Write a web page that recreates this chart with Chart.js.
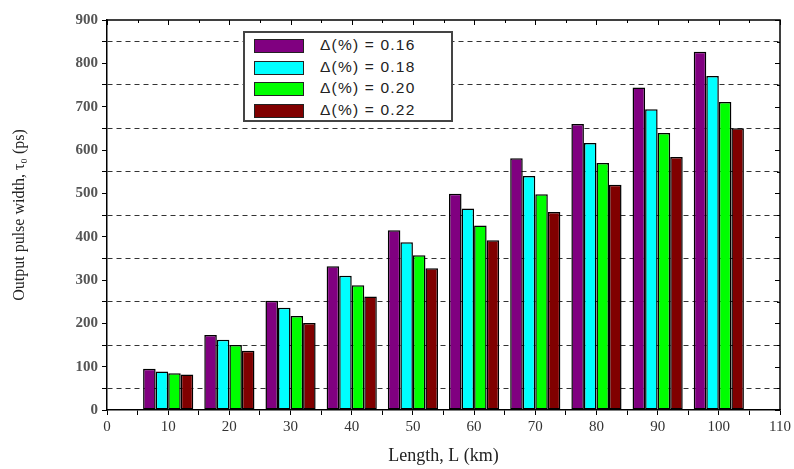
<!DOCTYPE html>
<html>
<head>
<meta charset="utf-8">
<script src="https://cdn.jsdelivr.net/npm/chart.js@4/dist/chart.umd.min.js"></script>
<style>
  html, body { margin: 0; padding: 0; background: #fff; }
  #wrap { position: relative; width: 794px; height: 469px; }
  #legend {
    position: absolute; left: 243px; top: 31px; width: 206px; height: 87px;
    border: 2px solid #444; background: #fff;
    font-family: "Liberation Sans", Arial, sans-serif; font-size: 15.5px; color: #222;
  }
  .row { position: absolute; left: 9px; height: 15px; }
  .sw { position: absolute; left: 0; top: 0; width: 48px; height: 12px; border: 1px solid #222; }
  .lb { position: absolute; left: 66px; top: -3px; white-space: nowrap; letter-spacing: 1.2px; }
</style>
</head>
<body>
<div id="wrap">
  <canvas id="chart" width="794" height="469"></canvas>
  <div id="legend"></div>
</div>
<script>
// data
const lengths = [10, 20, 30, 40, 50, 60, 70, 80, 90, 100];
const delta016 = [95, 173, 252, 332, 415, 499, 581, 660, 744, 827];
const delta018 = [89, 162, 236, 310, 387, 465, 540, 616, 694, 771];
const delta020 = [85, 150, 217, 288, 357, 426, 498, 570, 639, 711];
const delta022 = [82, 137, 201, 262, 327, 392, 457, 520, 584, 650];
const seriesLabels = ['Δ(%) = 0.16', 'Δ(%) = 0.18', 'Δ(%) = 0.20', 'Δ(%) = 0.22'];
const seriesColors = ['#800080', '#00ffff', '#00ff00', '#800000'];

const allSeries = [delta016, delta018, delta020, delta022];

// frame + inner ticks on top / right
const framePlugin = {
  id: 'frame',
  afterDraw(chart) {
    const { ctx, chartArea: a, scales } = chart;
    ctx.save();
    ctx.strokeStyle = '#000';
    ctx.lineWidth = 1.5;
    ctx.beginPath();
    ctx.moveTo(a.left, a.top);
    ctx.lineTo(a.right, a.top);
    ctx.lineTo(a.right, a.bottom);
    ctx.stroke();
    ctx.lineWidth = 1;
    ctx.beginPath();
    for (let v = 0; v <= 110; v += 5) {
      const x = Math.round(scales.x.getPixelForValue(v)) + 0.5;
      ctx.moveTo(x, a.top);
      ctx.lineTo(x, a.top + (v % 10 === 0 ? 5 : 3));
    }
    for (let v = 0; v <= 900; v += 50) {
      const y = Math.round(scales.y.getPixelForValue(v)) + 0.5;
      ctx.moveTo(a.right, y);
      ctx.lineTo(a.right - (v % 100 === 0 ? 5 : 3), y);
    }
    ctx.stroke();
    ctx.restore();
  }
};

new Chart(document.getElementById('chart'), {
  type: 'bar',
  data: {
    datasets: allSeries.map((vals, i) => ({
      label: seriesLabels[i],
      data: vals.map((v, j) => ({ x: lengths[j], y: v })),
      backgroundColor: seriesColors[i],
      borderColor: '#000',
      borderWidth: 1.5,
      borderSkipped: false,
      barPercentage: 1,
      // ruler spacing follows the 5-unit tick step, so a group spans 8.2 units
      categoryPercentage: 1.64
    }))
  },
  options: {
    responsive: false,
    animation: false,
    events: [],
    layout: { padding: { top: 20, right: 14, left: 0, bottom: 0 } },
    plugins: {
      legend: { display: false },
      tooltip: { enabled: false }
    },
    scales: {
      x: {
        type: 'linear',
        min: 0,
        max: 110,
        offset: false,
        afterFit(s) { s.height = 59; },
        border: { color: '#000', width: 1.5 },
        grid: { drawOnChartArea: false, offset: false, color: '#000', tickLength: 5 },
        ticks: {
          stepSize: 5,
          autoSkip: false,
          maxRotation: 0,
          padding: 3,
          color: '#333',
          font: { family: 'Liberation Serif', size: 15 },
          callback: v => (v % 10 === 0 ? v : '')
        },
        title: {
          display: true,
          text: 'Length, L (km)',
          color: '#222',
          font: { family: 'Liberation Serif', size: 18 },
          padding: { top: 0, bottom: 2 }
        }
      },
      y: {
        min: 0,
        max: 900,
        afterFit(s) { s.width = 107; },
        border: {
          color: '#000',
          width: 1.5,
          dash: ctx => (ctx.tick && ctx.tick.value % 100 !== 0 ? [5, 4] : [])
        },
        grid: {
          color: ctx => (ctx.tick && ctx.tick.value % 100 !== 0 ? '#333' : 'rgba(0,0,0,0)'),
          tickColor: '#000',
          lineWidth: 1,
          tickLength: 5
        },
        ticks: {
          stepSize: 50,
          autoSkip: false,
          padding: 4,
          color: '#555',
          font: { family: 'Liberation Serif', size: 15, weight: 'bold' },
          callback: v => (v % 100 === 0 ? v : '')
        },
        title: {
          display: true,
          text: 'Output pulse width, τ₀ (ps)',
          color: '#222',
          font: { family: 'Liberation Serif', size: 16 },
          padding: { top: 10, bottom: 0 }
        }
      }
    }
  },
  plugins: [framePlugin]
});

// legend box inside the plot
const legend = document.getElementById('legend');
seriesLabels.forEach((t, i) => {
  const row = document.createElement('div');
  row.className = 'row';
  row.style.top = (6 + i * 21.5) + 'px';
  row.innerHTML = '<div class="sw" style="background:' + seriesColors[i] + '"></div><div class="lb">' + t + '</div>';
  legend.appendChild(row);
});
</script>
</body>
</html>
